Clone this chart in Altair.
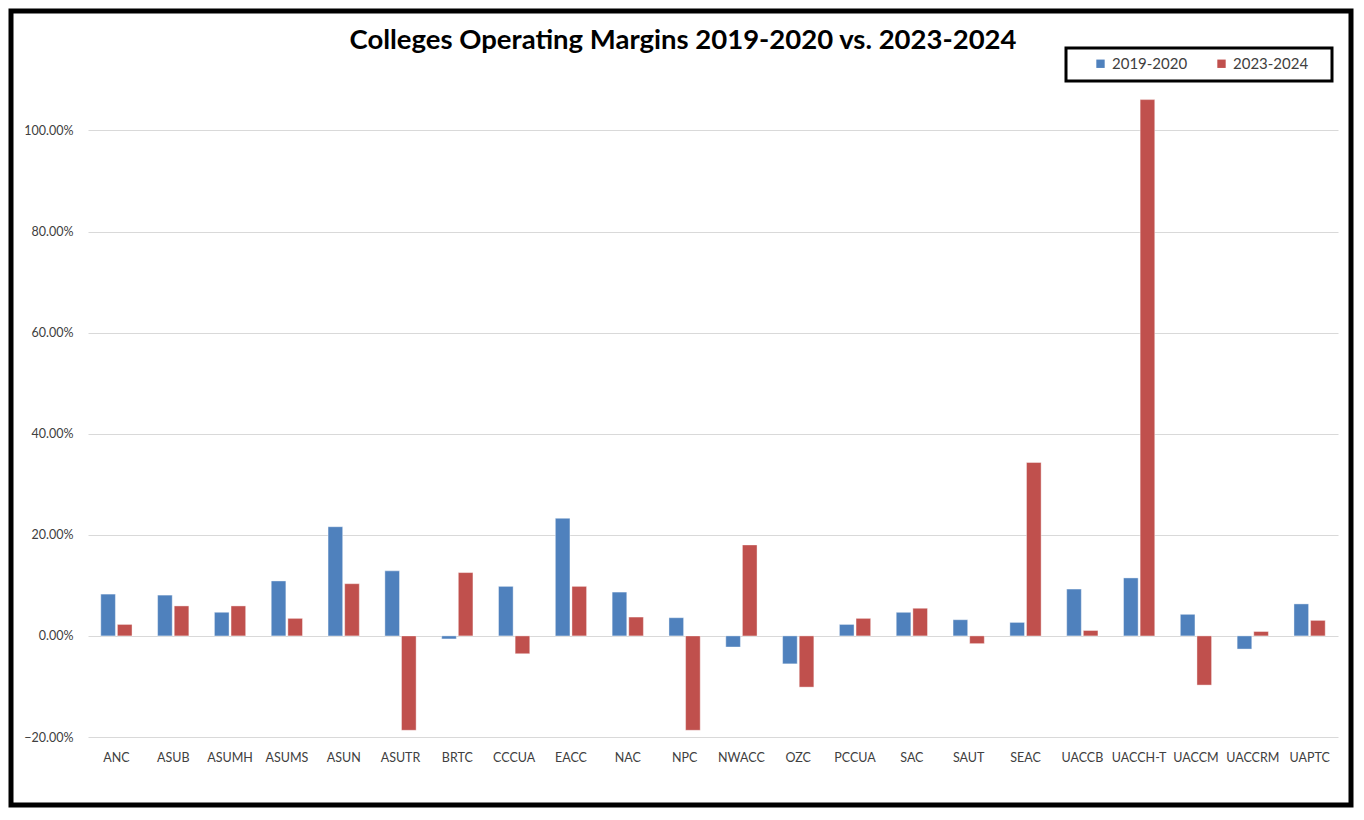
import altair as alt
import pandas as pd

colleges = ["ANC", "ASUB", "ASUMH", "ASUMS", "ASUN", "ASUTR", "BRTC", "CCCUA", "EACC", "NAC", "NPC",
            "NWACC", "OZC", "PCCUA", "SAC", "SAUT", "SEAC", "UACCB", "UACCH-T", "UACCM", "UACCRM", "UAPTC"]
margin_2019_2020 = [8.27, 8.07, 4.67, 10.87, 21.6, 12.87, -0.6, 9.8, 23.27, 8.67, 3.6,
                    -2.2, -5.53, 2.27, 4.67, 3.2, 2.67, 9.27, 11.47, 4.27, -2.6, 6.33]
margin_2023_2024 = [2.27, 5.93, 5.93, 3.47, 10.33, -18.67, 12.53, -3.53, 9.8, 3.73, -18.67,
                    18.0, -10.13, 3.47, 5.47, -1.53, 34.3, 1.07, 106.1, -9.73, 0.87, 3.07]
series = ["2019-2020", "2023-2024"]
colors = ["#4F81BD", "#C0504D"]
y_ticks = [-0.2, 0.0, 0.2, 0.4, 0.6, 0.8, 1.0]
title_text = "Colleges Operating Margins 2019-2020 vs. 2023-2024"

rows = []
for i, c in enumerate(colleges):
    rows.append({"College": c, "Year": series[0], "Margin": margin_2019_2020[i] / 100})
    rows.append({"College": c, "Year": series[1], "Margin": margin_2023_2024[i] / 100})
df = pd.DataFrame(rows)

W, H = 1250, 647
FONT = "Lato"

bars = alt.Chart(df).mark_bar(stroke="white", strokeOpacity=0.5, strokeWidth=0.8).encode(
    x=alt.X("College:N", sort=colleges, title=None,
            scale=alt.Scale(paddingInner=0.45, paddingOuter=0.225),
            axis=alt.Axis(labelAngle=0, ticks=False, domain=False, labelFontSize=12.5,
                          labelColor="#404040", labelFont=FONT, labelPadding=14, grid=False)),
    xOffset=alt.XOffset("Year:N", sort=series, scale=alt.Scale(paddingInner=0.12)),
    y=alt.Y("Margin:Q", title=None,
            scale=alt.Scale(domain=[-0.2, 1.08], nice=False, zero=False),
            axis=alt.Axis(values=y_ticks, format=".2%", ticks=False, domain=False,
                          labelFontSize=12.5, labelColor="#404040", labelFont=FONT,
                          labelPadding=15, gridColor="#d9d9d9", gridWidth=1.2)),
    color=alt.Color("Year:N", sort=series, scale=alt.Scale(domain=series, range=colors),
                    legend=alt.Legend(title=None, orient="none", legendX=998, legendY=-41,
                                      direction="horizontal", symbolType="square",
                                      symbolSize=70, symbolStrokeWidth=0,
                                      labelFontSize=15, labelFont=FONT, labelColor="#404040",
                                      columnPadding=26, padding=7, offset=0,
                                      labelLimit=200)),
)

frame = alt.Chart(pd.DataFrame({"k": [0]})).mark_rect(
    fill=None, stroke="black", strokeWidth=5, clip=False
).encode(
    x=alt.value(-77), x2=alt.value(W + 13), y=alt.value(-79), y2=alt.value(H + 68)
)

legend_box = alt.Chart(pd.DataFrame({"k": [0]})).mark_rect(
    fill=None, stroke="black", strokeWidth=3, clip=False
).encode(
    x=alt.value(978), x2=alt.value(1244), y=alt.value(-42), y2=alt.value(-9)
)

title = alt.Chart(pd.DataFrame({"t": [title_text]})).mark_text(
    font=FONT, fontSize=27.5, fontWeight="bold", color="black",
    align="center", baseline="alphabetic", clip=False
).encode(
    text="t:N", x=alt.value(595), y=alt.value(-41)
)

chart = alt.layer(bars, legend_box, frame, title).properties(
    width=W, height=H,
    padding={"left": 80, "top": 82, "right": 16, "bottom": 71},
    autosize=alt.AutoSizeParams(type="none"),
).configure_view(stroke=None).configure_legend(strokeColor=None)

chart.save("out.html", embed_options={"renderer": "svg", "actions": False})
